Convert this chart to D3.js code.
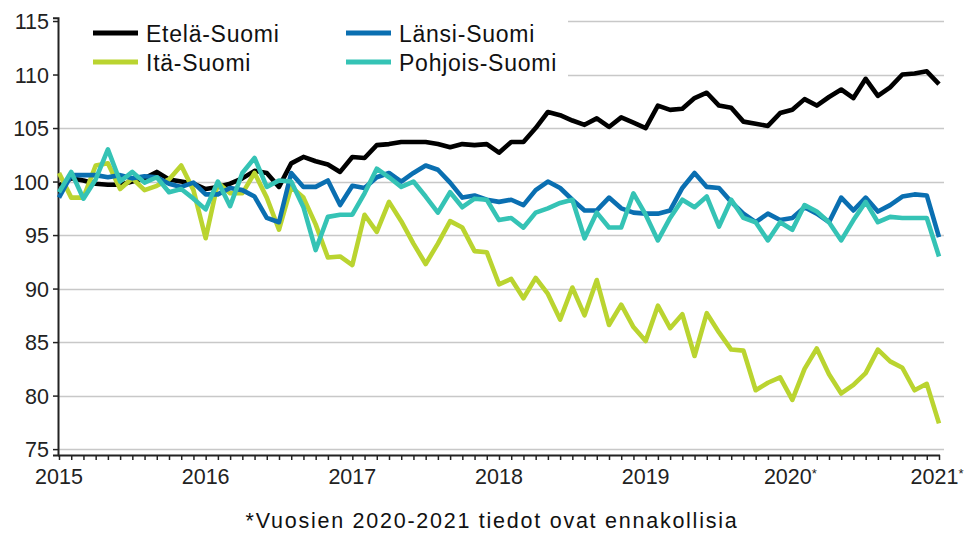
<!DOCTYPE html>
<html><head><meta charset="utf-8">
<script src="https://cdn.jsdelivr.net/npm/d3@7"></script>
<style>
html,body{margin:0;padding:0;background:#fff;}
svg{display:block;font-family:"Liberation Sans",Arial,sans-serif;}
</style></head>
<body><svg id="c" width="966" height="534"></svg>
<script>
// ---- data ----
const startYear = 2015;
const monthCount = 73; // 2015M01 .. 2021M01
const seriesNames = ["Etelä-Suomi", "Itä-Suomi", "Länsi-Suomi", "Pohjois-Suomi"];
const seriesColors = ["#000000", "#bad430", "#0a6fb1", "#35c3b5"];
const etela = [99.6,100.3,100.1,99.8,99.7,99.7,100.0,100.3,100.9,100.2,100.0,99.8,
  99.3,99.5,99.8,100.3,101.0,100.8,99.5,101.7,102.3,101.9,101.6,100.9,
  102.3,102.2,103.4,103.5,103.7,103.7,103.7,103.5,103.2,103.5,103.4,103.5,
  102.7,103.7,103.7,105.0,106.5,106.2,105.7,105.3,105.9,105.1,106.0,105.5,
  105.0,107.1,106.7,106.8,107.8,108.3,107.1,106.9,105.6,105.4,105.2,106.4,
  106.7,107.7,107.1,107.9,108.6,107.8,109.6,108.0,108.8,110.0,110.1,110.3,
  109.1];
const ita = [100.8,98.5,98.5,101.5,101.7,99.3,100.3,99.2,99.6,100.2,101.5,99.2,
  94.7,99.9,98.9,98.9,100.8,98.5,95.5,99.5,98.5,96.0,92.9,93.0,
  92.2,96.9,95.3,98.1,96.3,94.2,92.3,94.2,96.3,95.7,93.5,93.4,
  90.4,90.9,89.1,91.0,89.5,87.1,90.1,87.5,90.8,86.6,88.5,86.4,
  85.1,88.4,86.3,87.6,83.7,87.7,85.9,84.3,84.2,80.5,81.2,81.7,
  79.6,82.5,84.4,82.0,80.2,81.0,82.1,84.3,83.2,82.6,80.5,81.1,
  77.4];
const lansi = [98.5,100.6,100.6,100.6,100.4,100.6,100.3,100.5,100.4,99.8,99.5,99.9,
  98.8,98.8,99.4,99.2,98.6,96.6,96.2,100.8,99.5,99.5,100.1,97.8,
  99.6,99.4,100.4,100.8,100.0,100.8,101.5,101.1,99.9,98.5,98.7,98.3,
  98.1,98.3,97.8,99.2,100.0,99.4,98.3,97.3,97.3,98.5,97.5,97.1,
  97.0,97.0,97.3,99.4,100.8,99.5,99.4,98.1,97.0,96.2,97.0,96.4,
  96.6,97.6,97.0,96.2,98.5,97.3,98.5,97.2,97.8,98.6,98.8,98.7,
  94.8];
const pohjois = [99.0,100.9,98.4,100.2,103.0,100.0,100.9,99.9,100.4,99.0,99.3,98.4,
  97.4,100.0,97.7,100.8,102.2,99.5,100.1,100.0,97.6,93.6,96.7,96.9,
  96.9,98.9,101.2,100.4,99.5,100.0,98.6,97.1,99.0,97.6,98.4,98.3,
  96.4,96.6,95.7,97.1,97.5,98.0,98.3,94.7,97.1,95.7,95.7,98.9,
  96.9,94.5,96.6,98.3,97.6,98.6,95.8,98.3,96.6,96.2,94.5,96.2,
  95.5,97.8,97.2,96.2,94.5,96.4,98.1,96.2,96.7,96.6,96.6,96.6,
  93.0];
const yTicks = [75, 80, 85, 90, 95, 100, 105, 110, 115];
const yearLabels = ["2015", "2016", "2017", "2018", "2019", "2020", "2021"];
const yearStars = ["", "", "", "", "", "*", "*"];
const footnote = "*Vuosien 2020-2021 tiedot ovat ennakollisia";

// ---- chart ----
const svg = d3.select("#c");
const months = d3.range(monthCount);
const x = d3.scaleLinear().domain([0, monthCount - 1]).range([59, 939]);
const y = d3.scaleLinear().domain([74.45, 115.3]).range([455, 17.8]);
const axisX = 58, gridRight = 944;

// gridlines
svg.append("g").selectAll("line").data(yTicks).join("line")
  .attr("x1", axisX).attr("x2", gridRight)
  .attr("y1", d => Math.round(y(d)) + 0.5).attr("y2", d => Math.round(y(d)) + 0.5)
  .attr("stroke", "#c8c8c8").attr("stroke-width", 1.5);

// legend background (hides gridlines)
svg.append("rect").attr("x", axisX + 1).attr("y", 12).attr("width", 567 - axisX).attr("height", 74).attr("fill", "#fff");

// y axis
const yAxis = d3.axisLeft(y).tickValues(yTicks).tickSize(5).tickPadding(4).tickFormat(d3.format("d"));
const gy = svg.append("g").attr("transform", `translate(${axisX},0)`).call(yAxis);
gy.select(".domain").attr("stroke", "#222").attr("stroke-width", 2);
gy.selectAll(".tick line").attr("stroke", "#222").attr("stroke-width", 1.5);
gy.selectAll(".tick text").attr("font-size", "21.5px").attr("fill", "#222")
  .attr("font-family", "Liberation Sans, Arial, sans-serif").attr("dy", "0.36em");

// x axis
const xAxis = d3.axisBottom(x).tickValues(months).tickSize(5).tickFormat("");
const gx = svg.append("g").attr("transform", `translate(0,455)`).call(xAxis);
gx.select(".domain").attr("stroke", "#222").attr("stroke-width", 2).attr("d", `M${axisX},0.5H940`);
gx.selectAll(".tick line").attr("stroke", "#222").attr("stroke-width", 1.5);

const yl = svg.append("g").selectAll("text").data(yearLabels).join("text")
  .attr("x", (d, i) => x(i * 12) + (yearStars[i] ? -2 : 0)).attr("y", 484)
  .attr("text-anchor", "middle").attr("font-size", "21.5px").attr("fill", "#222");
yl.append("tspan").text(d => d);
yl.append("tspan").text((d, i) => yearStars[i]).attr("font-size", "13px").attr("dy", "-6");

// lines
const seriesData = [etela, ita, lansi, pohjois];
const line = d3.line().x((d, i) => x(i)).y(d => y(d));
svg.append("g").selectAll("path").data(seriesData).join("path")
  .attr("d", line).attr("fill", "none")
  .attr("stroke", (d, i) => seriesColors[i]).attr("stroke-width", 4.6)
  .attr("stroke-linejoin", "round").attr("stroke-linecap", "butt");

// legend
const legPos = [[93, 33], [93, 62], [346, 33], [346, 62]];
const lg = svg.append("g").selectAll("g").data(seriesNames).join("g")
  .attr("transform", (d, i) => `translate(${legPos[i][0]},${legPos[i][1]})`);
lg.append("line").attr("x1", 0).attr("x2", 45).attr("y1", 0).attr("y2", 0)
  .attr("stroke", (d, i) => seriesColors[i]).attr("stroke-width", 5);
lg.append("text").attr("x", 53).attr("y", 8.5).attr("font-size", "23px")
  .attr("letter-spacing", "0.75px").attr("fill", "#111").text(d => d);

// footnote
svg.append("text").attr("x", 492).attr("y", 528).attr("text-anchor", "middle")
  .attr("font-size", "21.5px").attr("letter-spacing", "1.75px").attr("fill", "#111").text(footnote);
</script></body></html>
